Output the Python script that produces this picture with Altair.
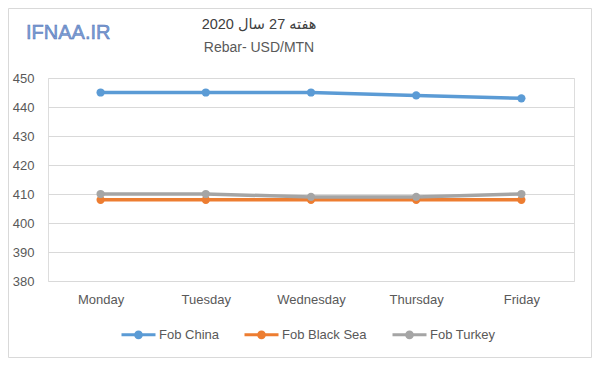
import altair as alt
import pandas as pd

days = ["Monday", "Tuesday", "Wednesday", "Thursday", "Friday"]
series_names = ["Fob China", "Fob Black Sea", "Fob Turkey"]
fob_china = [445, 445, 445, 444, 443]
fob_black_sea = [408, 408, 408, 408, 408]
fob_turkey = [410, 410, 409, 409, 410]
colors = ["#5B9BD5", "#ED7D31", "#A5A5A5"]

title_line1 = "هفته 27 سال 2020"
title_line2 = "Rebar- USD/MTN"
watermark = "IFNAA.IR"

rows = []
for name, vals in zip(series_names, [fob_china, fob_black_sea, fob_turkey]):
    for i, (d, v) in enumerate(zip(days, vals)):
        rows.append({"day": d, "idx": i, "series": name, "value": v})
df = pd.DataFrame(rows)

FONT = "Liberation Sans, DejaVu Sans, sans-serif"
W, H = 526, 203

legend_path = "M-1,0H1M-0.17,0A0.17,0.17 0 1,0 0.17,0A0.17,0.17 0 1,0 -0.17,0"

lines = alt.Chart(df).mark_line(
    strokeWidth=3.5,
    point=alt.OverlayMarkDef(filled=True, size=68, opacity=1),
).encode(
    x=alt.X("day:N", sort=days, title=None,
            scale=alt.Scale(type="point", padding=0.5),
            axis=alt.Axis(labelAngle=0, domain=False, ticks=False, grid=False,
                          labelPadding=12, labelFontSize=13, labelColor="#595959",
                          labelFont=FONT)),
    y=alt.Y("value:Q", title=None,
            scale=alt.Scale(domain=[380, 450], nice=False, zero=False),
            axis=alt.Axis(values=list(range(380, 451, 10)), domain=False, ticks=False,
                          gridColor="#d9d9d9", gridWidth=1, labelPadding=14,
                          labelFontSize=13, labelColor="#595959", labelFont=FONT)),
    color=alt.Color("series:N", sort=series_names,
                    scale=alt.Scale(domain=series_names, range=colors),
                    legend=alt.Legend(title=None, orient="none", direction="horizontal",
                                      legendX=72, legendY=238, padding=0,
                                      symbolType=legend_path, symbolSize=1156,
                                      symbolStrokeWidth=3, labelOffset=2,
                                      columnPadding=19, labelFontSize=13,
                                      labelColor="#595959", labelFont=FONT)),
    order=alt.Order("idx:Q"),
)

frame = alt.Chart(alt.Data(values=[{}])).mark_rect(
    fillOpacity=0, stroke="#d9d9d9", strokeWidth=1
).encode(x=alt.value(-39.5), x2=alt.value(543.5), y=alt.value(-69.5), y2=alt.value(279.5))

wm = alt.Chart(alt.Data(values=[{"t": watermark}])).mark_text(
    align="left", baseline="middle", fontSize=20, font=FONT,
    color="#7E9DD3", stroke="#4F74B8", strokeWidth=0.5
).encode(text="t:N", x=alt.value(-22), y=alt.value(-45))

t1 = alt.Chart(alt.Data(values=[{"t": title_line1}])).mark_text(
    align="center", baseline="middle", fontSize=14.5, font=FONT, color="#404040"
).encode(text="t:N", x=alt.value(211), y=alt.value(-53))

t2 = alt.Chart(alt.Data(values=[{"t": title_line2}])).mark_text(
    align="center", baseline="middle", fontSize=14, font=FONT, color="#595959"
).encode(text="t:N", x=alt.value(211), y=alt.value(-30))

chart = alt.layer(frame, lines, wm, t1, t2).properties(
    width=W, height=H,
    autosize=alt.AutoSizeParams(type="none"),
    padding={"left": 40, "top": 70, "right": 18, "bottom": 97},
).configure_view(stroke=None).configure(background="white")

chart.save("out.html", embed_options={"renderer": "svg", "actions": False})
